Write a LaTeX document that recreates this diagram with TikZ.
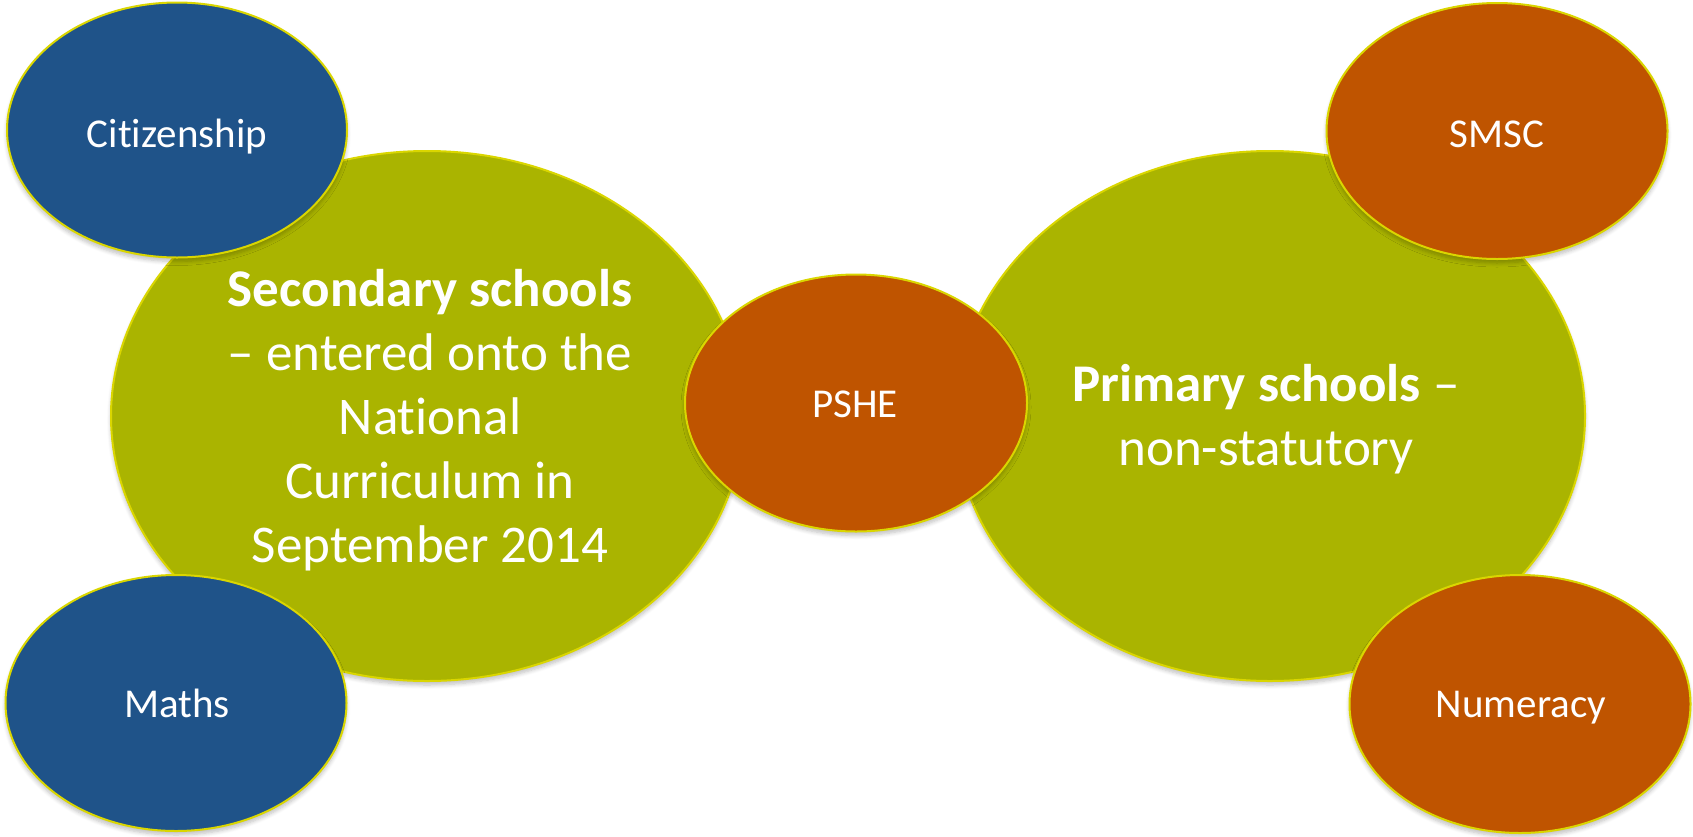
\documentclass[tikz,border=0pt]{standalone}
\usepackage{fontspec}
\setmainfont{Carlito}[Ligatures=NoCommon]
\usetikzlibrary{shapes.geometric,shadows.blur}
\definecolor{bblue}{RGB}{31,83,137}
\definecolor{borange}{RGB}{191,84,0}
\definecolor{bgreen}{RGB}{170,180,0}
\definecolor{bline}{RGB}{218,214,0}
\tikzset{
  blob/.style={ellipse, draw=bline, line width=2pt, inner sep=0pt,
    blur shadow={shadow xshift=0pt, shadow yshift=-4pt, shadow blur steps=6, shadow opacity=25, shadow blur radius=4pt}},
  bigtxt/.style={text=white, align=center, font=\fontsize{53}{64}\selectfont},
  smalltxt/.style={text=white, font=\fontsize{41}{49}\selectfont, anchor=base, inner sep=0pt}
}
\begin{document}
\begin{tikzpicture}[x=1pt,y=-1pt]
\useasboundingbox (0,0) rectangle (1693,836);
% big green ellipses
\node[blob, fill=bgreen, minimum width=632, minimum height=530] (sec) at (427,416) {};
\node[blob, fill=bgreen, minimum width=630, minimum height=530] (pri) at (1270,416) {};
% small ellipses
\node[blob, fill=bblue, minimum width=340, minimum height=255] (cit) at (177,130) {};
\node[blob, fill=bblue, minimum width=341, minimum height=256] (mat) at (176,703) {};
\node[blob, fill=borange, minimum width=341, minimum height=256] (smsc) at (1497,131) {};
\node[blob, fill=borange, minimum width=341, minimum height=258] (num) at (1520,704) {};
\node[blob, fill=borange, minimum width=342, minimum height=257] (pshe) at (856,403) {};
% texts
\node[smalltxt] (citt) at (177,147) {Citizenship};
\node[smalltxt] (matt) at (177,717) {Maths};
\node[smalltxt] (smsct) at (1497,147) {SMSC};
\node[smalltxt] (numt) at (1521,717) {Numeracy};
\node[smalltxt] (pshet) at (855,417) {PSHE};
\node[bigtxt, anchor=base, inner sep=0pt] (sect) at (430,562)
  {\textbf{Secondary schools}\\– entered onto the\\National\\Curriculum in\\September 2014};
\node[bigtxt, anchor=base, inner sep=0pt] (prit) at (1266,465)
  {\textbf{Primary schools} –\\non-statutory};
\end{tikzpicture}
\end{document}
